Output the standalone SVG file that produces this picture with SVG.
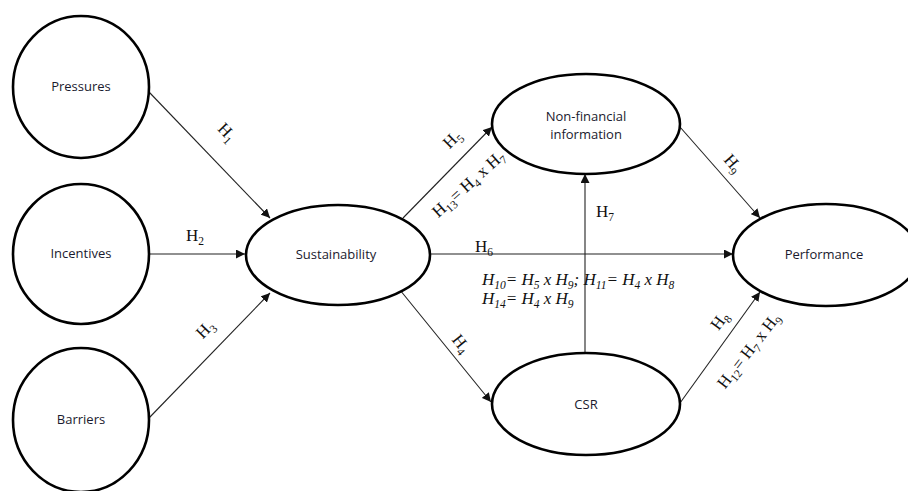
<svg xmlns="http://www.w3.org/2000/svg" width="908" height="491" viewBox="0 0 908 491">
<defs>
<marker id="arr" viewBox="0 0 10 10" refX="10" refY="5" markerWidth="9" markerHeight="9" markerUnits="userSpaceOnUse" orient="auto">
<path d="M0,0 L10,5 L0,10 z" fill="#111"/>
</marker>
<style>
.node{fill:#fff;stroke:#000;stroke-width:2.6}
.nl{font-family:"Open Sans","Liberation Sans",sans-serif;font-size:13px;fill:#1a1a2e;text-anchor:middle}
.e{stroke:#222;stroke-width:1.1;fill:none;marker-end:url(#arr)}
.h{font-family:"Liberation Serif","Times New Roman",serif;font-size:17px;fill:#111}
.hi{font-family:"Liberation Serif","Times New Roman",serif;font-size:17px;font-style:italic;fill:#111}
.s{font-size:11.5px}
</style>
</defs>
<rect width="908" height="491" fill="#fff"/>
<g id="connectors">
<line class="e" x1="149" y1="92" x2="270" y2="218"/>
<line class="e" x1="149" y1="254" x2="245" y2="254"/>
<line class="e" x1="149" y1="418" x2="270" y2="293"/>
<line class="e" x1="403" y1="218" x2="492" y2="127"/>
<line class="e" x1="430" y1="254" x2="733" y2="254"/>
<line class="e" x1="400" y1="290" x2="491" y2="402"/>
<line class="e" x1="585" y1="353" x2="585" y2="174"/>
<line class="e" x1="680" y1="127" x2="760" y2="218"/>
<line class="e" x1="680" y1="403" x2="760" y2="292"/>
</g>
<g id="labels">
<text class="h" text-anchor="middle" transform="translate(223,136) rotate(46)">H<tspan class="s" dy="4">1</tspan></text>
<text class="h" x="186" y="241">H<tspan class="s" dy="4">2</tspan></text>
<text class="h" text-anchor="middle" transform="translate(209,333) rotate(-46)">H<tspan class="s" dy="4">3</tspan></text>
<text class="h" text-anchor="middle" transform="translate(456,143) rotate(-45)">H<tspan class="s" dy="4">5</tspan></text>
<text class="h" text-anchor="middle" transform="translate(472,188) rotate(-42)">H<tspan class="s" dy="4">13</tspan><tspan dy="-4">= H</tspan><tspan class="s" dy="4">4</tspan><tspan dy="-4"> x H</tspan><tspan class="s" dy="4">7</tspan></text>
<text class="h" x="475" y="252">H<tspan class="s" dy="4">6</tspan></text>
<text class="hi" x="482" y="285">H<tspan class="s" dy="4">10</tspan><tspan dy="-4">= H</tspan><tspan class="s" dy="4">5</tspan><tspan dy="-4"> x H</tspan><tspan class="s" dy="4">9</tspan><tspan dy="-4">; H</tspan><tspan class="s" dy="4">11</tspan><tspan dy="-4">= H</tspan><tspan class="s" dy="4">4</tspan><tspan dy="-4"> x H</tspan><tspan class="s" dy="4">8</tspan></text>
<text class="hi" x="482" y="304">H<tspan class="s" dy="4">14</tspan><tspan dy="-4">= H</tspan><tspan class="s" dy="4">4</tspan><tspan dy="-4"> x H</tspan><tspan class="s" dy="4">9</tspan></text>
<text class="h" x="596" y="217">H<tspan class="s" dy="4">7</tspan></text>
<text class="h" text-anchor="middle" transform="translate(457,347) rotate(51)">H<tspan class="s" dy="4">4</tspan></text>
<text class="h" text-anchor="middle" transform="translate(729,167) rotate(49)">H<tspan class="s" dy="4">9</tspan></text>
<text class="h" text-anchor="middle" transform="translate(724,324) rotate(-53)">H<tspan class="s" dy="4">8</tspan></text>
<text class="h" text-anchor="middle" transform="translate(753,354) rotate(-52)">H<tspan class="s" dy="4">12</tspan><tspan dy="-4">= H</tspan><tspan class="s" dy="4">7</tspan><tspan dy="-4"> x H</tspan><tspan class="s" dy="4">9</tspan></text>
</g>
<g id="pressures"><ellipse class="node" cx="81" cy="87" rx="68" ry="71"/><text class="nl" x="81" y="91">Pressures</text></g>
<g id="incentives"><ellipse class="node" cx="81" cy="254" rx="68" ry="70"/><text class="nl" x="81" y="258">Incentives</text></g>
<g id="barriers"><ellipse class="node" cx="81" cy="420" rx="68" ry="72"/><text class="nl" x="81" y="424">Barriers</text></g>
<g id="sustainability"><ellipse class="node" cx="338" cy="255" rx="92" ry="50"/><text class="nl" x="336" y="259">Sustainability</text></g>
<g id="nonfinancial"><ellipse class="node" cx="586" cy="124" rx="94" ry="50"/><text class="nl" x="586" y="121">Non-financial</text><text class="nl" x="586" y="139">information</text></g>
<g id="csr"><ellipse class="node" cx="586" cy="404" rx="94" ry="51"/><text class="nl" x="586" y="409">CSR</text></g>
<g id="performance"><ellipse class="node" cx="826" cy="255" rx="93" ry="51"/><text class="nl" x="824" y="259">Performance</text></g>
</svg>
